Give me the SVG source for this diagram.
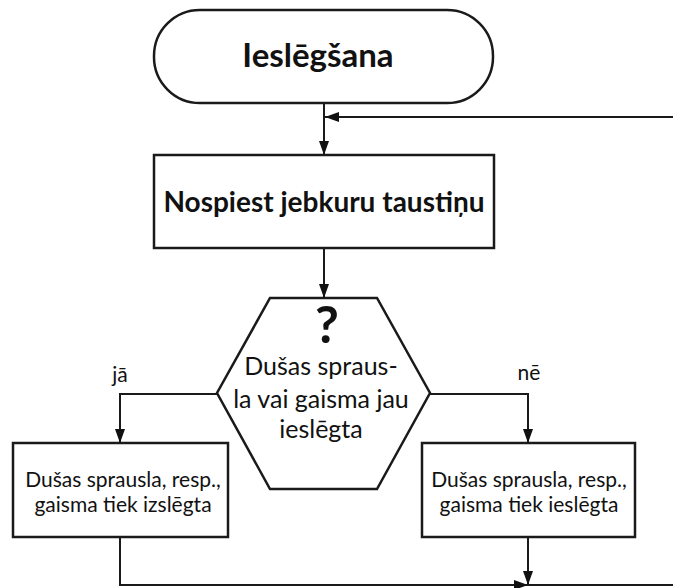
<svg xmlns="http://www.w3.org/2000/svg" width="673" height="588" viewBox="0 0 673 588">
<defs>
<marker id="arr" viewBox="0 0 14 10" refX="14" refY="5" markerWidth="14" markerHeight="10" markerUnits="userSpaceOnUse" orient="auto">
<path d="M0,0 L14,5 L0,10 Z" fill="#111"/>
</marker>
<style>
.shape{fill:#fff;stroke:#1a1a1a;stroke-width:2.5}
.line{fill:none;stroke:#1a1a1a;stroke-width:2}
.t{font-family:"Lato","Liberation Sans",sans-serif;fill:#111;text-anchor:middle}
.b{font-weight:bold}
.n{font-size:21px}
.h{font-size:25px}
</style>
</defs>
<g id="connectors">
<line class="line" x1="324" y1="103" x2="324" y2="155" marker-end="url(#arr)"/>
<line class="line" x1="673" y1="117" x2="325" y2="117" marker-end="url(#arr)"/>
<line class="line" x1="324" y1="248" x2="324" y2="298" marker-end="url(#arr)"/>
<polyline class="line" points="217,394 120,394 120,443" marker-end="url(#arr)"/>
<polyline class="line" points="430,394 528,394 528,443" marker-end="url(#arr)"/>
<polyline class="line" points="120,537 120,585 528,585" marker-end="url(#arr)"/>
<line class="line" x1="528" y1="537" x2="528" y2="585" marker-end="url(#arr)"/>
<line class="line" x1="528" y1="585" x2="673" y2="585"/>
<text class="t n" x="120" y="382">jā</text>
<text class="t n" x="529" y="380">nē</text>
</g>
<g id="start">
<rect class="shape" x="154" y="10" width="339" height="93" rx="46" ry="46"/>
<text class="t b" x="318" y="67" font-size="33">Ieslēgšana</text>
</g>
<g id="press">
<rect class="shape" x="154" y="155" width="340" height="93"/>
<text class="t b" x="324" y="212" font-size="28">Nospiest jebkuru taustiņu</text>
</g>
<g id="decision">
<polygon class="shape" points="270,298 377,298 430,393 377,489 270,489 217,393"/>
<text class="t b" x="327" y="343" font-size="52">?</text>
<text class="t h" x="321" y="375">Dušas spraus-</text>
<text class="t h" x="321" y="408">la vai gaisma jau</text>
<text class="t h" x="321" y="438">ieslēgta</text>
</g>
<g id="off">
<rect class="shape" x="13" y="443" width="215" height="94"/>
<text class="t n" x="123" y="487">Dušas sprausla, resp.,</text>
<text class="t n" x="123" y="512">gaisma tiek izslēgta</text>
</g>
<g id="on">
<rect class="shape" x="422" y="443" width="213" height="94"/>
<text class="t n" x="529" y="487">Dušas sprausla, resp.,</text>
<text class="t n" x="529" y="512">gaisma tiek ieslēgta</text>
</g>
</svg>
